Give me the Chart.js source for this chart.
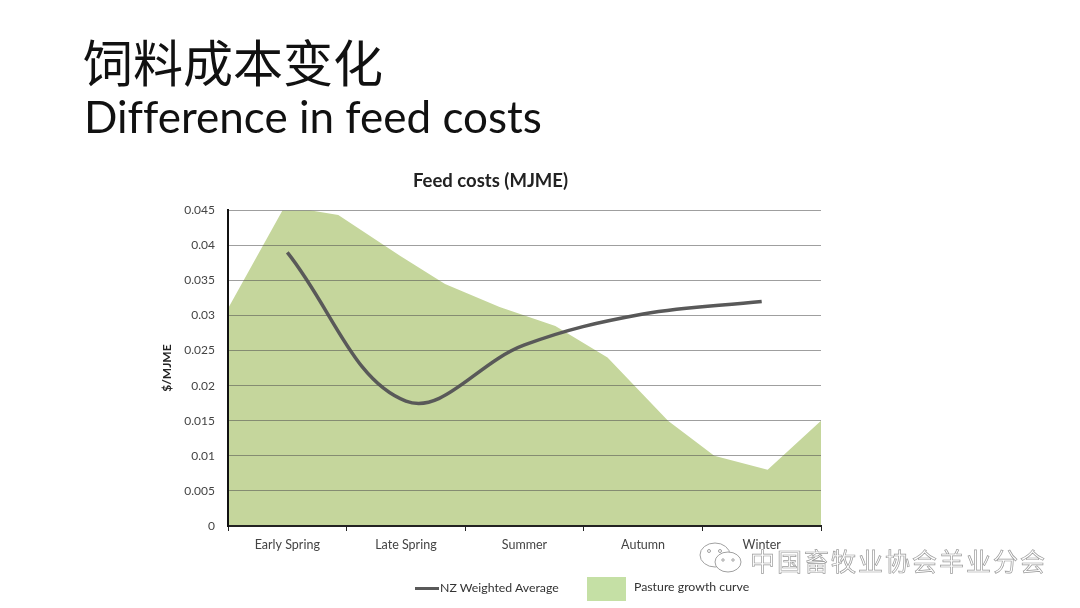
<!DOCTYPE html>
<html>
<head>
<meta charset="utf-8">
<title>Difference in feed costs</title>
<script src="https://cdn.jsdelivr.net/npm/chart.js"></script>
<style>
  html, body { margin: 0; padding: 0; background: #fff; overflow: hidden; }
  body { width: 1080px; height: 608px; position: relative; font-family: Lato, sans-serif; }
  canvas { position: absolute; left: 0; top: 0; }
  .abs { position: absolute; white-space: nowrap; }
  #headCn { left: 83px; top: 29px; font: 50px/62px "Noto Sans CJK SC", sans-serif; color: #111; }
  #headEn { left: 84px; top: 87px; font: 44px/58px Lato, sans-serif; color: #111; font-variant-ligatures: none; }
  .legendText { font: 12.3px/16px Lato, sans-serif; color: #333; }
  #lineKey { left: 415px; top: 587px; width: 24px; height: 3px; background: #595959; }
  #areaKey { left: 587px; top: 577px; width: 39px; height: 24px; background: #c5e0a5; }
  #mark { left: 750px; top: 543px; font: 25px/34px "Noto Sans CJK SC", sans-serif; letter-spacing: 2px;
          color: rgba(255,255,255,.6); -webkit-text-stroke: .7px #9a9a9a; }
  #markIcon { left: 698px; top: 541px; }
</style>
</head>
<body>
<canvas id="chart" width="978" height="608"></canvas>
<div class="abs" id="headCn">饲料成本变化</div>
<div class="abs" id="headEn">Difference in feed costs</div>
<div class="abs" id="lineKey"></div>
<div class="abs legendText" style="left:440px;top:580px">NZ Weighted Average</div>
<div class="abs" id="areaKey"></div>
<div class="abs legendText" style="left:634px;top:579px">Pasture growth curve</div>
<svg class="abs" id="markIcon" width="48" height="36" fill="none" stroke="#a0a0a0">
  <ellipse cx="17" cy="14" rx="15" ry="12"/>
  <ellipse cx="30" cy="21" rx="13" ry="10" fill="#fff"/>
  <circle cx="11" cy="10" r="1.5"/><circle cx="22" cy="10" r="1.5"/>
  <circle cx="25" cy="19" r="1.2"/><circle cx="35" cy="19" r="1.2"/>
</svg>
<div class="abs" id="mark">中国畜牧业协会羊业分会</div>
<script>
// season labels and the weighted average line
const seasons = ['Early Spring', 'Late Spring', 'Summer', 'Autumn', 'Winter'];
const nzWeightedAverage = [0.039, 0.0178, 0.0258, 0.0302, 0.032];

// pasture curve, position counted in seasons from the axis start
const pastureSeason = [0, 0.46, 0.69, 0.93, 1.45, 1.83, 2.29, 2.76, 3.2, 3.71, 4.1, 4.55, 5];
const pastureValue = [0.031, 0.045, 0.045, 0.0443, 0.0385, 0.0345, 0.0312, 0.0285, 0.024, 0.015, 0.01, 0.008, 0.015];

const yTicks = ['0', '0.005', '0.01', '0.015', '0.02', '0.025', '0.03', '0.035', '0.04', '0.045'];

const ctx = document.getElementById('chart').getContext('2d');

new Chart(ctx, {
  type: 'line',
  data: {
    labels: seasons,
    datasets: [
      {
        label: 'NZ Weighted Average',
        data: nzWeightedAverage,
        xAxisID: 'x',
        borderColor: '#595959',
        borderWidth: 3.5,
        pointRadius: 0,
        tension: 0.38,
        fill: false,
        order: 1
      },
      {
        label: 'Pasture growth curve',
        data: pastureSeason.map((s, i) => ({ x: s, y: pastureValue[i] })),
        xAxisID: 'x2',
        borderWidth: 0,
        backgroundColor: '#c5d69c',
        pointRadius: 0,
        fill: 'start',
        order: 2
      }
    ]
  },
  options: {
    responsive: false,
    animation: false,
    layout: { padding: { left: 160, right: 157, top: 170, bottom: 42 } },
    plugins: {
      legend: { display: false },
      tooltip: { enabled: false },
      title: {
        display: true,
        text: 'Feed costs (MJME)',
        color: '#222',
        font: { family: 'Lato', size: 18.5, weight: 'bold' },
        padding: { top: 0, bottom: 18 }
      }
    },
    scales: {
      x: {
        type: 'category',
        offset: true,
        afterFit: axis => { axis.height = 40; },
        border: { color: '#222', width: 2, z: 2 },
        grid: { offset: true, drawOnChartArea: false, drawTicks: true, tickLength: 5, color: '#222', z: 1 },
        ticks: { color: '#444', font: { family: 'Lato', size: 12.5 }, padding: 6, maxRotation: 0 }
      },
      x2: { type: 'linear', min: 0, max: 5, display: false },
      y: {
        min: 0,
        max: 0.045,
        afterFit: axis => { axis.width = 68; },
        // border above the grid layer, otherwise its position is not computed yet
        border: { color: '#111', width: 2, z: 2 },
        // drawn over the area, the reference gridlines show through the green
        grid: { z: 1, drawTicks: false, color: 'rgba(80,80,80,.55)', lineWidth: 1 },
        ticks: {
          stepSize: 0.005,
          padding: 13,
          color: '#444',
          font: { family: 'Lato', size: 12 },
          callback: (value, index) => yTicks[index]
        },
        title: {
          display: true,
          text: '$/MJME',
          color: '#222',
          font: { family: 'Lato', size: 12, weight: 'bold' },
          padding: 0
        }
      }
    }
  }
});
</script>
</body>
</html>
